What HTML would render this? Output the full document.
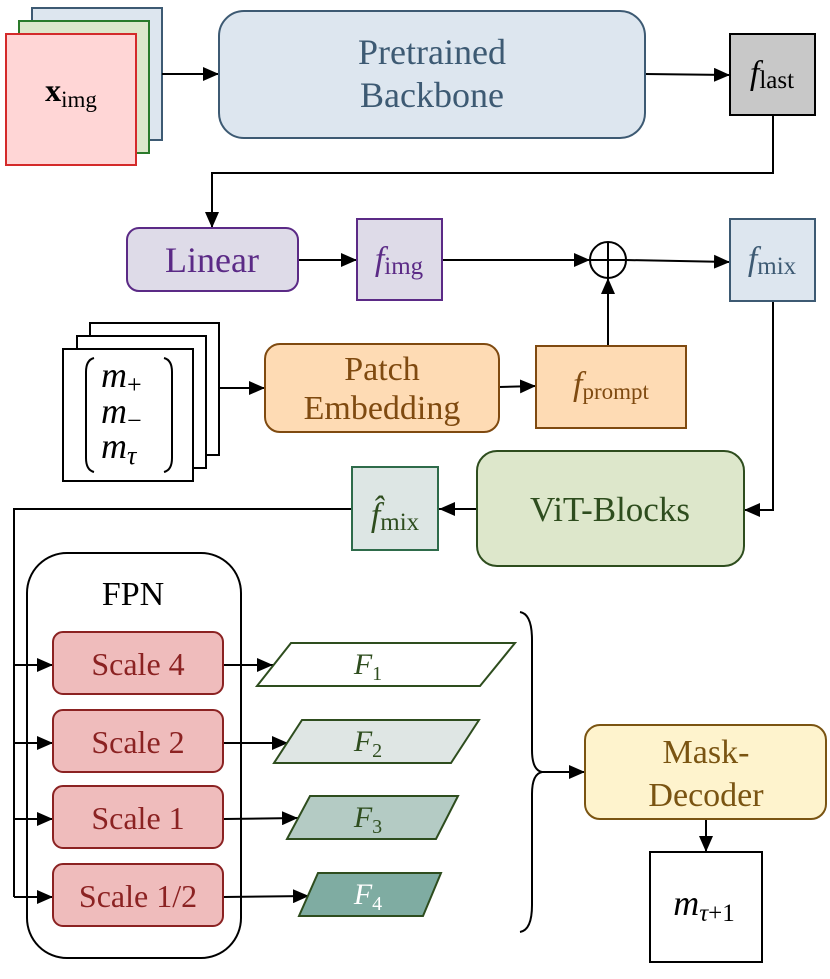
<!DOCTYPE html>
<html><head><meta charset="utf-8"><style>
html,body{margin:0;padding:0;background:#fff;}
svg{display:block;}
</style></head><body>
<svg width="830" height="979" viewBox="0 0 830 979" xmlns="http://www.w3.org/2000/svg" font-family="'Liberation Serif','DejaVu Serif',serif">
<defs>
<marker id="b" markerWidth="16" markerHeight="14" refX="16" refY="7" orient="auto" markerUnits="userSpaceOnUse" viewBox="0 0 16 14">
<path d="M0,0 L16,7 L0,14 z" fill="#000"/></marker>
</defs>
<g stroke-width="2">
<rect x="32" y="8" width="130" height="132" fill="#dde6ef" stroke="#3d5a73"/>
<rect x="19" y="21" width="130" height="132" fill="#dde7cb" stroke="#2a7a2a"/>
<rect x="6" y="34" width="130" height="131" fill="#ffd6d6" stroke="#d42a2a"/>
</g>
<text x="71" y="101" font-size="32" text-anchor="middle"><tspan font-weight="bold">x</tspan><tspan font-size="23" dy="6">img</tspan></text>
<!-- FPN container (drawn before connectors) -->
<rect x="27" y="553" width="214" height="405" rx="40" fill="#fff" stroke="#000" stroke-width="2"/>
<text x="133" y="605" font-size="34" text-anchor="middle">FPN</text>
<g stroke="#000" stroke-width="2" fill="none">
<line x1="162" y1="74" x2="219" y2="74" marker-end="url(#b)"/>
<line x1="645" y1="74" x2="730" y2="75" marker-end="url(#b)"/>
<polyline points="773,115 773,173 212,173 212,228" marker-end="url(#b)"/>
<line x1="298" y1="260" x2="357" y2="260" marker-end="url(#b)"/>
<line x1="442" y1="260" x2="590" y2="260" marker-end="url(#b)"/>
<line x1="626" y1="260" x2="730" y2="262" marker-end="url(#b)"/>
<polyline points="773,301 773,510 744,510" marker-end="url(#b)"/>
<line x1="219" y1="388" x2="265" y2="388" marker-end="url(#b)"/>
<line x1="499" y1="387" x2="536" y2="386" marker-end="url(#b)"/>
<line x1="608" y1="346" x2="608" y2="278" marker-end="url(#b)"/>
<line x1="477" y1="509" x2="439" y2="509" marker-end="url(#b)"/>
<polyline points="352,509 14,509 14,897"/>
<line x1="14" y1="665" x2="53" y2="665" marker-end="url(#b)"/>
<line x1="14" y1="743" x2="53" y2="743" marker-end="url(#b)"/>
<line x1="14" y1="819" x2="53" y2="819" marker-end="url(#b)"/>
<line x1="14" y1="897" x2="53" y2="897" marker-end="url(#b)"/>
<line x1="223" y1="665" x2="273" y2="665" marker-end="url(#b)"/>
<line x1="223" y1="743" x2="288" y2="743" marker-end="url(#b)"/>
<line x1="223" y1="819" x2="298" y2="818" marker-end="url(#b)"/>
<line x1="223" y1="897" x2="309" y2="896" marker-end="url(#b)"/>
<line x1="540" y1="772" x2="585" y2="772" marker-end="url(#b)"/>
<line x1="706" y1="819" x2="706" y2="852" marker-end="url(#b)"/>
<path d="M520,612 Q532,614 532,640 L532,750 Q532,770 542,772 Q532,774 532,794 L532,905 Q532,930 520,932"/>
</g>
<rect x="219" y="11" width="426" height="127" rx="25" fill="#dde6ef" stroke="#3d5a73" stroke-width="2"/>
<text x="432" y="64" font-size="36" fill="#3d5a73" text-anchor="middle">Pretrained</text>
<text x="432" y="107" font-size="36" fill="#3d5a73" text-anchor="middle">Backbone</text>
<rect x="730" y="34" width="85" height="81" fill="#c8c8c8" stroke="#000" stroke-width="2"/>
<text x="772" y="84" font-size="34" text-anchor="middle"><tspan font-style="italic">f</tspan><tspan font-size="25" dy="4">last</tspan></text>
<rect x="127" y="228" width="171" height="63" rx="12" fill="#dedbe8" stroke="#5b2a86" stroke-width="2"/>
<text x="212" y="272" font-size="36" fill="#5b2a86" text-anchor="middle">Linear</text>
<rect x="357" y="219" width="85" height="81" fill="#dedbe8" stroke="#5b2a86" stroke-width="2"/>
<text x="399" y="270" font-size="34" fill="#5b2a86" text-anchor="middle"><tspan font-style="italic">f</tspan><tspan font-size="25" dy="4">img</tspan></text>
<circle cx="608" cy="260" r="18" fill="#fff" stroke="#000" stroke-width="2"/>
<line x1="590" y1="260" x2="626" y2="260" stroke="#000" stroke-width="2"/>
<line x1="608" y1="242" x2="608" y2="278" stroke="#000" stroke-width="2"/>
<rect x="730" y="219" width="85" height="82" fill="#dde6ef" stroke="#3d5a73" stroke-width="2"/>
<text x="772" y="270" font-size="34" fill="#3d5a73" text-anchor="middle"><tspan font-style="italic">f</tspan><tspan font-size="25" dy="4">mix</tspan></text>
<g stroke="#000" stroke-width="2" fill="#fff">
<rect x="90" y="323" width="129" height="132"/>
<rect x="77" y="336" width="129" height="132"/>
<rect x="63" y="349" width="130" height="132"/>
</g>
<path d="M94,358 Q86,360 86,372 L86,458 Q86,470 94,472" fill="none" stroke="#000" stroke-width="2"/>
<path d="M164,358 Q172,360 172,372 L172,458 Q172,470 164,472" fill="none" stroke="#000" stroke-width="2"/>
<text x="101" y="387" font-size="36" font-style="italic">m<tspan font-size="26" font-style="normal" dy="6">+</tspan></text>
<text x="101" y="423" font-size="36" font-style="italic">m<tspan font-size="26" font-style="normal" dy="6">−</tspan></text>
<text x="101" y="458" font-size="36" font-style="italic">m<tspan font-size="26" dy="6">τ</tspan></text>
<rect x="265" y="344" width="234" height="88" rx="15" fill="#fedbb4" stroke="#7f4a10" stroke-width="2"/>
<text x="382" y="380" font-size="34" fill="#7f4a10" text-anchor="middle">Patch</text>
<text x="382" y="419" font-size="34" fill="#7f4a10" text-anchor="middle">Embedding</text>
<rect x="536" y="346" width="150" height="82" fill="#fedbb4" stroke="#7f4a10" stroke-width="2"/>
<text x="611" y="395" font-size="34" fill="#7f4a10" text-anchor="middle"><tspan font-style="italic">f</tspan><tspan font-size="23" dy="4">prompt</tspan></text>
<rect x="477" y="451" width="267" height="115" rx="20" fill="#dde7cb" stroke="#2e4d1e" stroke-width="2"/>
<text x="610" y="521" font-size="35" fill="#2e4d1e" text-anchor="middle">ViT-Blocks</text>
<rect x="352" y="467" width="86" height="83" fill="#dde6e4" stroke="#2e6b4a" stroke-width="2"/>
<text x="395" y="526" font-size="34" fill="#2e4d1e" text-anchor="middle"><tspan font-style="italic">f̂</tspan><tspan font-size="25" dy="4">mix</tspan></text>
<g fill="#efbcbc" stroke="#8b2222" stroke-width="2">
<rect x="53" y="632" width="170" height="62" rx="10"/>
<rect x="53" y="710" width="170" height="62" rx="10"/>
<rect x="53" y="786" width="170" height="62" rx="10"/>
<rect x="53" y="864" width="170" height="62" rx="10"/>
</g>
<g font-size="32" fill="#8b2222" text-anchor="middle">
<text x="138" y="675">Scale 4</text>
<text x="138" y="753">Scale 2</text>
<text x="138" y="829">Scale 1</text>
<text x="138" y="907">Scale 1/2</text>
</g>
<g stroke="#2e4d1e" stroke-width="2">
<polygon points="291,643 515,643 480,686 257,686" fill="#fff"/>
<polygon points="302,720 479,720 451,763 274,763" fill="#dfe6e4"/>
<polygon points="310,796 458,796 436,839 287,839" fill="#b4cbc4"/>
<polygon points="318,873 441,873 423,916 299,916" fill="#7faca2"/>
</g>
<g font-size="30" font-style="italic" fill="#2e4d1e" text-anchor="middle">
<text x="368" y="674">F<tspan font-size="20" font-style="normal" dy="6">1</tspan></text>
<text x="368" y="751">F<tspan font-size="20" font-style="normal" dy="6">2</tspan></text>
<text x="368" y="827">F<tspan font-size="20" font-style="normal" dy="6">3</tspan></text>
<text x="368" y="904" fill="#fff">F<tspan font-size="20" font-style="normal" dy="6">4</tspan></text>
</g>
<rect x="585" y="725" width="241" height="94" rx="15" fill="#fef3cd" stroke="#7a5412" stroke-width="2"/>
<text x="706" y="763" font-size="34" fill="#7a5412" text-anchor="middle">Mask-</text>
<text x="706" y="806" font-size="34" fill="#7a5412" text-anchor="middle">Decoder</text>
<rect x="650" y="852" width="112" height="110" fill="#fff" stroke="#000" stroke-width="2"/>
<text x="704" y="915" font-size="36" text-anchor="middle"><tspan font-style="italic">m</tspan><tspan font-size="25" dy="6"><tspan font-style="italic">τ</tspan>+1</tspan></text>
</svg>
</body></html>
